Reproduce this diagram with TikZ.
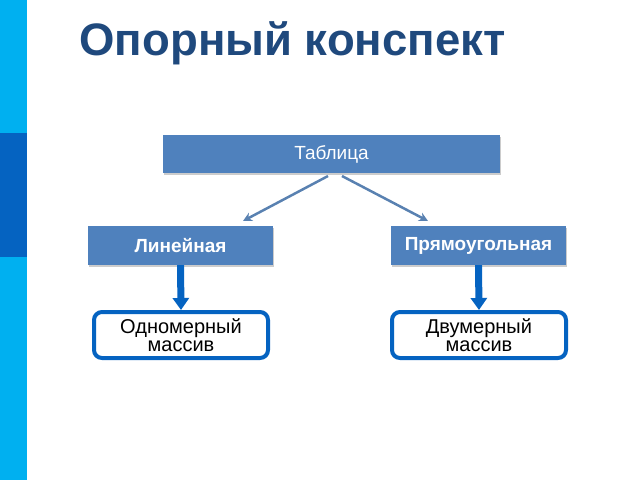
\documentclass[tikz,border=0pt]{standalone}
\usepackage{fontspec}
\setmainfont{Liberation Sans}
\usetikzlibrary{arrows.meta,shadows}
\definecolor{boxblue}{HTML}{4F81BD}
\definecolor{dblue}{HTML}{0563C1}
\definecolor{cyanb}{HTML}{00B0F0}
\definecolor{titleblue}{HTML}{1F497D}
\tikzset{
  topbox/.style={fill=boxblue, text=white, font=\fontsize{19}{21}\selectfont, drop shadow={shadow xshift=1pt, shadow yshift=-2pt, fill=black!40, opacity=0.5}},
  leafbox/.style={draw=dblue, line width=4pt, rounded corners=8pt, fill=white, font=\fontsize{20}{18}\selectfont, align=center},
  thin/.style={draw=boxblue!80!gray, line width=2.5pt, -{Stealth[length=9pt,width=9pt]}},
  thick/.style={draw=dblue, line width=7pt, -{Triangle[length=12pt,width=16pt]}}
}
\begin{document}
\begin{tikzpicture}[x=1pt,y=-1pt]
\useasboundingbox (0,0) rectangle (640,480);
\fill[cyanb] (0,0) rectangle (27,480);
\fill[dblue] (0,133) rectangle (27,257);
\node[anchor=west, text=titleblue, font=\fontsize{45.5}{47}\selectfont\bfseries] (title) at (76,43) {Опорный конспект};
\node[topbox, minimum width=337pt, minimum height=38pt] (t) at (331.5,154) {Таблица};
\node[topbox, minimum width=185pt, minimum height=39pt, font=\fontsize{19}{21}\selectfont\bfseries] (l) at (180.5,245.5) {Линейная};
\node[topbox, minimum width=175pt, minimum height=39pt, font=\fontsize{19}{21}\selectfont\bfseries] (r) at (478.5,245.5) {Прямоугольная};
\node[leafbox, minimum width=174pt, minimum height=46pt] (o) at (181,335) {Одномерный\\массив};
\node[leafbox, minimum width=174pt, minimum height=46pt] (d) at (479,335) {Двумерный\\массив};
\coordinate (ls) at (328,176);
\coordinate (le) at (243,221);
\coordinate (rs) at (342,176);
\coordinate (re) at (428,221);
\draw[thin] (ls) -- (le);
\draw[thin] (rs) -- (re);
\draw[thick] (l.south) -- (o.north);
\draw[thick] (r.south) -- (d.north);
\end{tikzpicture}
\end{document}
